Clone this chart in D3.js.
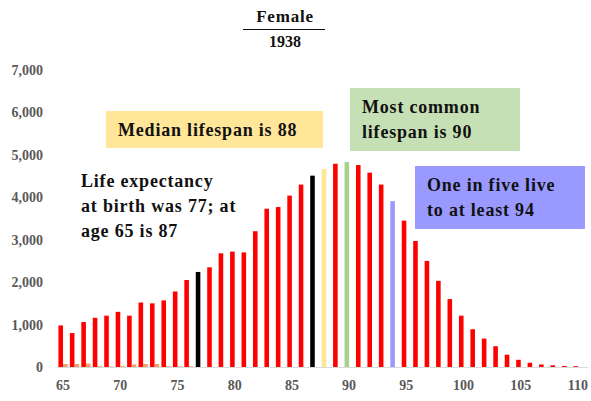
<!DOCTYPE html>
<html>
<head>
<meta charset="utf-8">
<script src="https://cdn.jsdelivr.net/npm/d3@7"></script>
<style>
  body { margin: 0; background: #fff; }
  text { font-family: "Liberation Serif", "DejaVu Serif", serif; }
</style>
</head>
<body>
<div id="chart"></div>
<script>
const WIDTH = 591;
const HEIGHT = 401;

// ages 65..110
const ages = d3.range(65, 111);
// number of deaths at each age (main series)
const deaths = [980, 800, 1060, 1160, 1210, 1300, 1210, 1520, 1500, 1570,
  1780, 2050, 2240, 2350, 2680, 2720, 2700, 3200, 3730, 3770,
  4040, 4300, 4510, 4670, 4790, 4830, 4760, 4580, 4300, 3910,
  3450, 2970, 2500, 2030, 1600, 1210, 890, 670, 490, 290,
  170, 100, 60, 40, 25, 20];
// small second series, only at the start
const other = [70, 70, 80, 20, 10, 20, 60, 70, 70, 20, 15, 15];

const highlight = { 77: "#000000", 87: "#000000", 88: "#FFE699", 90: "#A9D18E", 94: "#9999FF" };
const yTicks = [0, 1000, 2000, 3000, 4000, 5000, 6000, 7000];
const xTicks = [65, 70, 75, 80, 85, 90, 95, 100, 105, 110];

const boxes = [
  { lines: ["Median lifespan is 88"], fill: "#FFE699", x: 106, y: 111, w: 217, h: 37 },
  { lines: ["Most common", "lifespan is 90"], fill: "#C5E0B4", x: 350, y: 88, w: 170, h: 63 },
  { lines: ["One in five live", "to at least 94"], fill: "#9999FF", x: 415, y: 166, w: 170, h: 63 },
  { lines: ["Life expectancy", "at birth was 77; at", "age 65 is 87"], fill: "none", x: 69, y: 162, w: 0, h: 0 }
];

const svg = d3.select("#chart").append("svg")
  .attr("width", WIDTH).attr("height", HEIGHT);

const x = d3.scaleBand().domain(ages).range([57.3, 583.7]).paddingInner(0.2).paddingOuter(0.1);
const xSub = d3.scaleBand().domain(["main", "other"]).range([0, x.bandwidth()]);
const y = d3.scaleLinear().domain([0, 7000]).range([367, 70]);

// title
svg.append("text").attr("x", 285).attr("y", 22).attr("text-anchor", "middle")
  .attr("font-size", 17).attr("font-weight", "bold").attr("letter-spacing", 0.8)
  .attr("fill", "#111").text("Female");
svg.append("line").attr("x1", 243).attr("x2", 325).attr("y1", 29.5).attr("y2", 29.5)
  .attr("stroke", "#111").attr("stroke-width", 1.2);
svg.append("text").attr("x", 285).attr("y", 47).attr("text-anchor", "middle")
  .attr("font-size", 16).attr("font-weight", "bold").attr("fill", "#111").text("1938");

// y axis labels
const yAxis = svg.append("g").attr("transform", "translate(43,0)")
  .call(d3.axisLeft(y).tickValues(yTicks).tickFormat(d3.format(",")).tickSize(0).tickPadding(0));
yAxis.select(".domain").remove();
yAxis.selectAll("text").attr("font-size", 14).attr("font-weight", "bold").attr("fill", "#595959")
  .attr("font-family", "Liberation Serif");

// x axis
svg.append("line").attr("x1", 57).attr("x2", 588).attr("y1", 367.5).attr("y2", 367.5)
  .attr("stroke", "#d9d9d9").attr("stroke-width", 1);
const xAxis = svg.append("g").attr("transform", "translate(0,380)")
  .call(d3.axisBottom(x).tickValues(xTicks).tickSize(0).tickPadding(0));
xAxis.select(".domain").remove();
xAxis.selectAll("text").attr("font-size", 14).attr("font-weight", "bold").attr("fill", "#595959")
  .attr("font-family", "Liberation Serif");

// bars
svg.append("g").selectAll("rect.main").data(ages).join("rect")
  .attr("x", (d) => x(d) + xSub("main"))
  .attr("width", xSub.bandwidth())
  .attr("y", (d, i) => y(deaths[i]))
  .attr("height", (d, i) => y(0) - y(deaths[i]))
  .attr("fill", (d) => highlight[d] || "#FF0000");

svg.append("g").selectAll("rect.other").data(other).join("rect")
  .attr("x", (d, i) => x(ages[i]) + xSub("other"))
  .attr("width", xSub.bandwidth())
  .attr("y", (d) => y(d))
  .attr("height", (d) => y(0) - y(d))
  .attr("fill", "#ED7D31").attr("opacity", 0.75);

// annotation boxes
boxes.forEach(b => {
  const g = svg.append("g");
  if (b.fill !== "none") {
    g.append("rect").attr("x", b.x).attr("y", b.y).attr("width", b.w).attr("height", b.h)
      .attr("fill", b.fill);
  }
  b.lines.forEach((t, i) => {
    g.append("text").attr("x", b.x + 12).attr("y", b.y + 25 + i * 25)
      .attr("font-size", 18).attr("font-weight", "bold").attr("letter-spacing", 0.8)
      .attr("fill", "#111").text(t);
  });
});
</script>
</body>
</html>
